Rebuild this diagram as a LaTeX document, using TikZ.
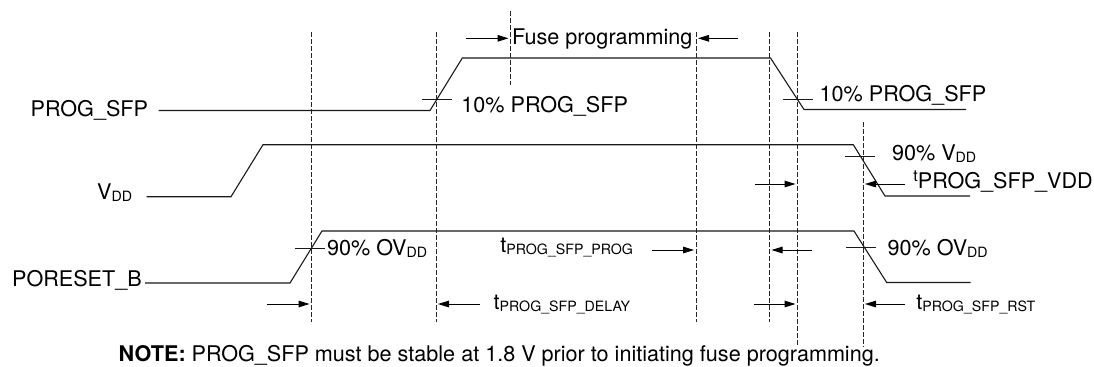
\documentclass[tikz,border=0pt]{standalone}
\usepackage{fontspec}
\setmainfont{TeX Gyre Heros}
\usetikzlibrary{arrows.meta, positioning, calc}

\newcommand{\lowtxt}[1]{\raisebox{-1.2pt}{\fontsize{7.1}{8}\selectfont #1}}
\newcommand{\hightxt}[1]{\raisebox{3.3pt}{\fontsize{8}{9}\selectfont #1}}

\begin{document}
\begin{tikzpicture}[x=0.5pt, y=-0.5pt,
        sig/.style={draw=black!90, line width=0.55pt},
        guide/.style={draw=black!85, line width=0.45pt,
                      dash pattern=on 2.5pt off 1pt},
        tickmark/.style={draw=black!90, line width=0.5pt},
        dim/.style={-{Triangle[length=5.5pt, width=3.3pt]}, black, line width=0.5pt,
                    shorten >=1pt},
        lbl/.style={anchor=base west, inner sep=0pt,
                    font=\fontsize{10.8}{12}\selectfont}
      ]
        \useasboundingbox (0,0) rectangle (1094,366);

        % dashed guide lines
        \coordinate (gA) at (311.5,32);  \coordinate (gAb) at (311.5,322);
        \coordinate (gB) at (436,32);    \coordinate (gBb) at (436,322);
        \coordinate (gC) at (510.5,11);  \coordinate (gCb) at (510.5,85);
        \coordinate (gD) at (696,32);    \coordinate (gDb) at (696,322);
        \coordinate (gE) at (769.5,32);  \coordinate (gEb) at (769.5,322);
        \coordinate (gF) at (797.5,32);  \coordinate (gFb) at (797.5,347);
        \coordinate (gG) at (863,122);   \coordinate (gGb) at (863,347);
        \draw[guide] (gA) -- (gAb);
        \draw[guide] (gB) -- (gBb);
        \draw[guide] (gC) -- (gCb);
        \draw[guide] (gD) -- (gDb);
        \draw[guide] (gE) -- (gEb);
        \draw[guide] (gF) -- (gFb);
        \draw[guide] (gG) -- (gGb);

        % signal names
        \node[lbl] (progname) at (30.3,116.7) {PROG\_SFP};
        \node[lbl] (vddname) at (96.7,199) {V\lowtxt{DD}};
        \node[lbl] (porname) at (11.7,286) {PORESET\_B};

        % waveforms
        \draw[sig] (158.7,110.5) -- (430,110.5) -- (462.3,58) -- (770.5,58)
                   -- (804,109.5) -- (966,109.5);
        \draw[sig] (146.7,196.7) -- (231,196.7) -- (263,144.7) -- (853.3,144.7)
                   -- (885,196) -- (970,196);
        \draw[sig] (145,283) -- (290,283) -- (322,231) -- (854,231)
                   -- (886.7,282.5) -- (970.7,282.5);

        % threshold ticks
        \draw[tickmark] (422,99) -- (452,99);
        \draw[tickmark] (782.7,99) -- (813.3,99);
        \draw[tickmark] (845,156.7) -- (875,156.7);
        \draw[tickmark] (295,248) -- (325,248);
        \draw[tickmark] (846,247) -- (876,247);

        % threshold labels
        \node[lbl] (pth1) at (461,112) {10\% PROG\_SFP};
        \node[lbl] (pth2) at (819.3,101) {10\% PROG\_SFP};
        \node[lbl] (vth) at (891.7,160) {90\% V\lowtxt{DD}};
        \node[lbl] (rth1) at (326.7,255) {90\% OV\lowtxt{DD}};
        \node[lbl] (rth2) at (887.3,255.5) {90\% OV\lowtxt{DD}};

        % fuse programming window
        \node[lbl] (fuse) at (511.7,44) {Fuse programming};
        \draw[dim] (466,38.3) -- (gC |- 0,38.3);
        \draw[dim] (737.7,38.3) -- (gD |- 0,38.3);

        % timing parameters
        \node[lbl] (tvdd) at (913,188.3) {\hightxt{t}PROG\_SFP\_VDD};
        \draw[dim] (755,184) -- (gF |- 0,184);
        \draw[dim] (905,184) -- (gG |- 0,184);

        \node[lbl] (tprog) at (500,252) {t\lowtxt{PROG\_SFP\_PROG}};
        \draw[dim] (651.7,250) -- (gD |- 0,250);
        \draw[dim] (811.7,250) -- (gE |- 0,250);

        \node[lbl] (tdelay) at (493.3,309.3) {t\lowtxt{PROG\_SFP\_DELAY}};
        \draw[dim] (266.7,304) -- (gA |- 0,304);
        \draw[dim] (480,304) -- (gB |- 0,304);

        \node[lbl] (trst) at (916,309) {t\lowtxt{PROG\_SFP\_RST}};
        \draw[dim] (754,304) -- (gF |- 0,304);
        \draw[dim] (905,304) -- (gG |- 0,304);

        \node[lbl] (note) at (118.3,361.5)
          {\textbf{NOTE:} PROG\_SFP must be stable at 1.8 V prior to initiating fuse programming.};
      \end{tikzpicture}
\end{document}
